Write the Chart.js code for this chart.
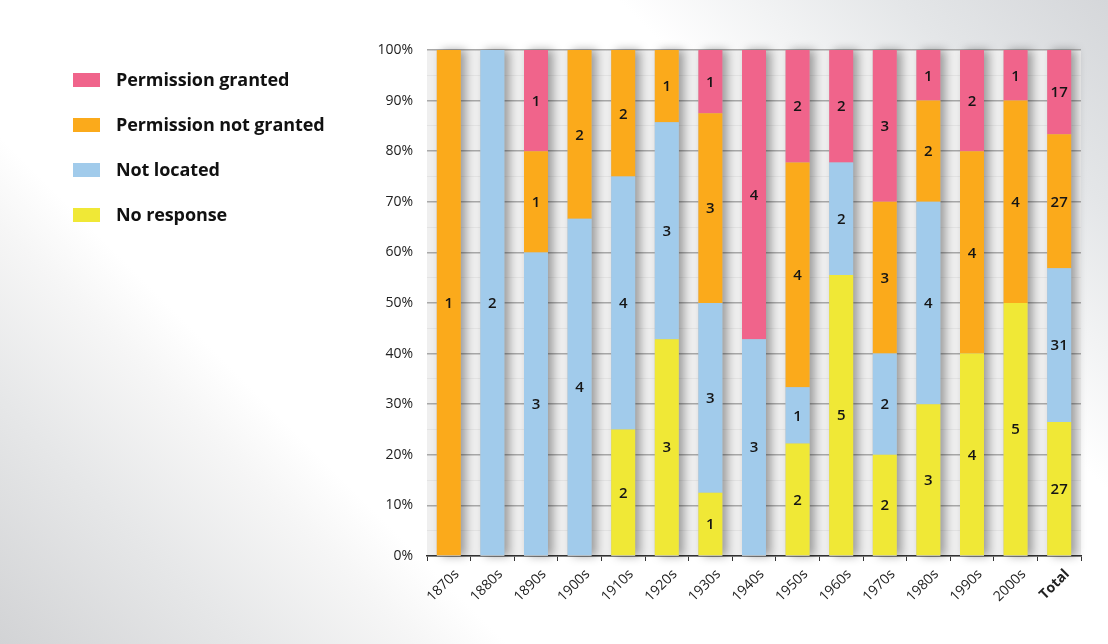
<!DOCTYPE html>
<html>
<head>
<meta charset="utf-8">
<script src="https://cdn.jsdelivr.net/npm/chart.js@4/dist/chart.umd.min.js"></script>
<style>
  html, body { margin: 0; padding: 0; }
  body {
    width: 1108px; height: 644px; overflow: hidden; position: relative;
    background:
      linear-gradient(45deg, #d2d3d5 0%, #e6e7e8 14%, #f6f6f6 24%, rgba(255,255,255,0) 29%),
      linear-gradient(225deg, #d5d7da 0%, #e4e6e8 12%, rgba(255,255,255,0) 28%),
      #ffffff;
    font-family: "Open Sans", sans-serif;
  }
  #wrap { position: absolute; left: 0; top: 0; width: 1108px; height: 644px; }
  #legend { position: absolute; left: 73px; top: 64px; }
  .li { height: 45px; display: flex; align-items: flex-start; }
  .sw { width: 27px; height: 14px; margin-top: 9px; margin-right: 16px; }
  .lt { font-weight: 700; font-size: 18px; color: #111; line-height: 30px; letter-spacing: -0.1px; }
</style>
</head>
<body>
<div id="wrap"><canvas id="c" width="1108" height="644"></canvas></div>
<div id="legend"></div>
<script>
const categories = ["1870s","1880s","1890s","1900s","1910s","1920s","1930s","1940s","1950s","1960s","1970s","1980s","1990s","2000s","Total"];
const noResponse      = [0,0,0,0,2,3,1,0,2,5,2,3,4,5,27];
const notLocated      = [0,2,3,4,4,3,3,3,1,2,2,4,0,0,31];
const permNotGranted  = [1,0,1,2,2,1,3,0,4,0,3,2,4,4,27];
const permGranted     = [0,0,1,0,0,0,1,4,2,2,3,1,2,1,17];
const yTicks = [0,10,20,30,40,50,60,70,80,90,100];

const seriesCounts = [noResponse, notLocated, permNotGranted, permGranted];
const seriesNames = ["No response","Not located","Permission not granted","Permission granted"];
const seriesColors = ["#f0e836","#a1cbeb","#fbaa1b","#f0648b"];

const totals = categories.map((_, i) => seriesCounts.reduce((s, a) => s + a[i], 0));
const datasets = seriesCounts.map((arr, k) => ({
  label: seriesNames[k],
  data: arr.map((v, i) => totals[i] ? v / totals[i] * 100 : 0),
  counts: arr,
  backgroundColor: seriesColors[k],
  borderWidth: 0,
  barPercentage: 0.55,
  categoryPercentage: 1.0,
  stack: "s"
}));

// HTML legend (top to bottom: reverse order)
const leg = document.getElementById("legend");
for (let k = seriesNames.length - 1; k >= 0; k--) {
  const row = document.createElement("div"); row.className = "li";
  const sw = document.createElement("div"); sw.className = "sw"; sw.style.background = seriesColors[k];
  const t = document.createElement("div"); t.className = "lt"; t.textContent = seriesNames[k];
  row.appendChild(sw); row.appendChild(t); leg.appendChild(row);
}

const plotBg = {
  id: "plotBg",
  beforeDraw(chart) {
    const {ctx, chartArea: a} = chart;
    ctx.save();
    ctx.fillStyle = "#efefef";
    ctx.fillRect(a.left, a.top, a.right - a.left, a.bottom - a.top);
    ctx.restore();
  },
  beforeDatasetsDraw(chart) {
    const {ctx} = chart;
    const y = chart.scales.y;
    const meta0 = chart.getDatasetMeta(0);
    ctx.save();
    ctx.shadowColor = "rgba(0,0,0,0.35)";
    ctx.shadowBlur = 10;
    ctx.shadowOffsetX = 5;
    ctx.shadowOffsetY = 0;
    meta0.data.forEach((bar, i) => {
      if (!totals[i]) return;
      const w = bar.width;
      const top = y.getPixelForValue(100);
      const bot = y.getPixelForValue(0);
      ctx.fillStyle = "#bbbbbb";
      ctx.fillRect(bar.x - w / 2, top, w, bot - top);
    });
    ctx.restore();
  },
  afterDatasetsDraw(chart) {
    const {ctx} = chart;
    ctx.save();
    ctx.fillStyle = "#151515";
    ctx.font = "600 15px 'Open Sans', sans-serif";
    ctx.textAlign = "center";
    ctx.textBaseline = "middle";
    chart.data.datasets.forEach((ds, k) => {
      const meta = chart.getDatasetMeta(k);
      meta.data.forEach((bar, i) => {
        const c = ds.counts[i];
        if (!c) return;
        ctx.fillText(String(c), bar.x, (bar.y + bar.base) / 2 + 1);
      });
    });
    ctx.restore();
  }
};

new Chart(document.getElementById("c"), {
  type: "bar",
  data: { labels: categories, datasets },
  plugins: [plotBg],
  options: {
    responsive: false,
    animation: false,
    layout: { padding: { left: 367, right: 27, top: 50, bottom: 0 } },
    plugins: { legend: { display: false }, tooltip: { enabled: false } },
    scales: {
      x: {
        stacked: true,
        afterFit(s) { s.height = 88; },
        border: { display: true, color: "#333333", width: 1.5 },
        grid: { display: true, drawOnChartArea: false, drawTicks: true, tickLength: 5, color: "#333333", offset: true },
        ticks: {
          maxRotation: 45, minRotation: 45, autoSkip: false, padding: 5, labelOffset: 8,
          color: "#222",
          font: (ctx) => ({ family: "'Open Sans', sans-serif", size: 14, weight: ctx.index === categories.length - 1 ? "700" : "400" })
        }
      },
      y: {
        stacked: true,
        min: 0, max: 100,
        afterFit(s) { s.width = 60; },
        border: { display: false },
        grid: {
          drawTicks: false,
          color: (c) => (c.tick && c.tick.value % 10 === 0) ? "#a8a8a8" : "#e3e3e3",
          lineWidth: (c) => (c.tick && c.tick.value % 10 === 0) ? 1.5 : 1
        },
        ticks: {
          stepSize: 5,
          padding: 14,
          color: "#222",
          font: { family: "'Open Sans', sans-serif", size: 14 },
          callback: (v) => yTicks.includes(v) ? v + "%" : ""
        }
      }
    }
  }
});
</script>
</body>
</html>
